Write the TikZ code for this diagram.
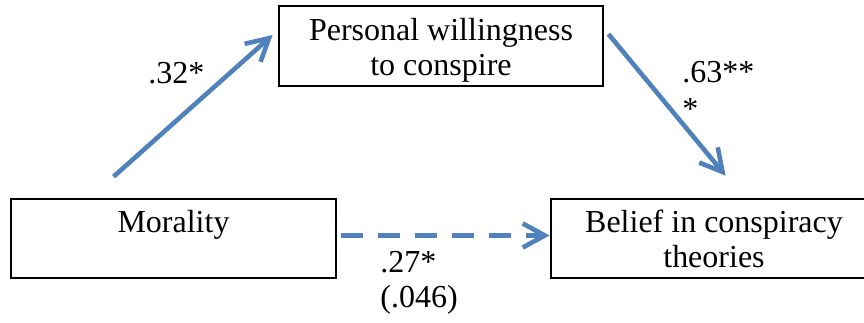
\documentclass[tikz,border=0pt]{standalone}
\usepackage{fontspec}
\setmainfont{Liberation Serif}
\usetikzlibrary{arrows.meta,calc}
\definecolor{arrowblue}{HTML}{4F81BD}
\tikzset{
  box/.style={draw=black, line width=1.4pt, rectangle, minimum height=40pt, inner sep=0pt},
  txt/.style={anchor=base, inner sep=0pt, font=\fontsize{16}{17.5}\selectfont},
  lbl/.style={anchor=base west, inner sep=0pt, font=\fontsize{16}{17.5}\selectfont},
  conn/.style={draw=arrowblue, line width=2.3pt, -{Straight Barb[length=11pt,width=12pt]}},
  dconn/.style={conn, dash pattern=on 11pt off 7.5pt}
}
\begin{document}
\begin{tikzpicture}[x=0.5pt,y=-0.5pt]
\fill[white] (0,0) rectangle (864,322);
\useasboundingbox (0,0) rectangle (864,322);
% boxes
\node[box, minimum width=162pt] (top) at (441,46) {};
\node[box, minimum width=162.5pt, minimum height=39.5pt] (mor) at (173.5,238.5) {};
\node[box, minimum width=163pt, minimum height=39.5pt] (bel) at (714,238.5) {};
% box texts
\node[txt] (top1) at (441,40) {Personal willingness};
\node[txt] (top2) at (441,75) {to conspire};
\node[txt] (mort) at (173.5,232) {Morality};
\node[txt] (bel1) at (714,232) {Belief in conspiracy};
\node[txt] (bel2) at (714,267) {theories};
% connector ends
\coordinate (a1s) at ($(mor.north west)+(104,-21)$);
\coordinate (a1e) at ($(top.west)+(-5,-11)$);
\coordinate (a2s) at ($(top.east)+(4,-12)$);
\coordinate (a2e) at ($(bel.north west)+(176,-22)$);
\coordinate (ds) at ($(mor.east)+(4,-3)$);
\coordinate (de) at ($(bel.west)+(0,-3)$);
\draw[conn] (a1s) -- (a1e);
\draw[conn] (a2s) -- (a2e);
\draw[dconn] (ds) -- (de);
% labels
\node[lbl] (l1) at (148,83) {.32*};
\node[lbl] (l2) at (682,82) {.63**};
\node[lbl] (l2b) at (682,119) {*};
\node[lbl] (l3) at (380,272) {.27*};
\node[lbl] (l3b) at (380,307) {(.046)};
\end{tikzpicture}
\end{document}
